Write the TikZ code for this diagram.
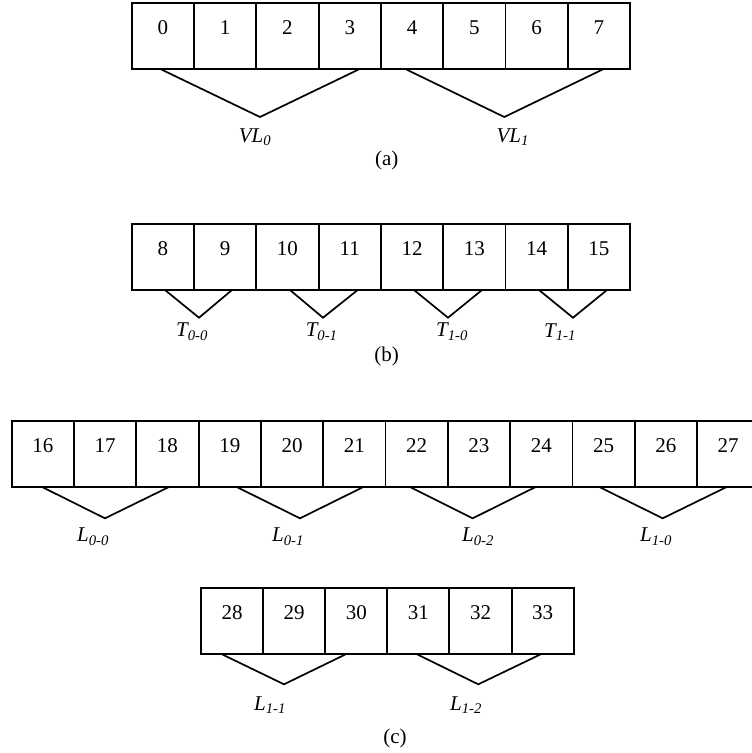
\documentclass[tikz,border=0pt]{standalone}
\usepackage{fontspec}
\setmainfont{Liberation Serif}
\tikzset{
  cell/.style={draw, line width=1.8pt, minimum width=62.3pt, minimum height=66pt,
    inner sep=0pt, text height=14pt, text depth=17pt,
    font=\fontsize{21}{25}\selectfont},
  vmark/.style={line width=1.7pt, line join=miter},
  tag/.style={inner sep=0pt, font=\fontsize{21}{25}\selectfont\itshape},
  caption/.style={inner sep=0pt, font=\fontsize{21}{25}\selectfont}
}
\begin{document}
\begin{tikzpicture}[x=1pt,y=-1pt]
\clip (0,0) rectangle (752,753);

% (a) virtual lanes
\foreach \n [count=\i from 0] in {0,...,7}
  \node[cell] (a\i) at ({162.85+62.3*\i},36.3) {\n};
\draw[vmark] (161,69.3) -- (260,117) coordinate (vl0) -- (359,69.3);
\draw[vmark] (406,69.3) -- (504.3,117) coordinate (vl1) -- (603,69.3);
\node[tag] (vl0t) at (255,137) {VL\textsubscript{0}};
\node[tag] (vl1t) at (512.7,137) {VL\textsubscript{1}};
\node[caption] (capa) at (386.7,160) {(a)};

% (b) pairs
\foreach \n [count=\i from 0] in {8,...,15}
  \node[cell] (b\i) at ({162.85+62.3*\i},257) {\n};
\draw[vmark] (165,290) -- (199,317.7) coordinate (t00) -- (232,290);
\draw[vmark] (290,290) -- (323,317.7) coordinate (t01) -- (357.7,290);
\draw[vmark] (414,290) -- (448,317.7) coordinate (t10) -- (482,290);
\draw[vmark] (539,290) -- (573,317.7) coordinate (t11) -- (607,290);
\node[tag] (t00t) at (192,331.7) {T\textsubscript{0-0}};
\node[tag] (t01t) at (321.7,331.7) {T\textsubscript{0-1}};
\node[tag] (t10t) at (452,331.7) {T\textsubscript{1-0}};
\node[tag] (t11t) at (560,331.7) {T\textsubscript{1-1}};
\node[caption] (capb) at (386.7,356.7) {(b)};

% (c) triples
\foreach \n [count=\i from 0] in {16,...,27}
  \node[cell] (c\i) at ({42.85+62.3*\i},454.2) {\n};
\draw[vmark] (42.7,487.3) -- (105,518.3) coordinate (l00) -- (168.3,487.3);
\draw[vmark] (237.3,487.3) -- (300,518.3) coordinate (l01) -- (362.7,487.3);
\draw[vmark] (410.7,487.3) -- (472.7,518.3) coordinate (l02) -- (535,487.3);
\draw[vmark] (600,487.3) -- (662.7,518.3) coordinate (l10) -- (726,487.3);
\node[tag] (l00t) at (93,536.7) {L\textsubscript{0-0}};
\node[tag] (l01t) at (288,536.7) {L\textsubscript{0-1}};
\node[tag] (l02t) at (478,536.7) {L\textsubscript{0-2}};
\node[tag] (l10t) at (656,536.7) {L\textsubscript{1-0}};

\foreach \n [count=\i from 0] in {28,...,33}
  \node[cell] (d\i) at ({232.1+62.1*\i},620.8) {\n};
\draw[vmark] (221,653.8) -- (284,684.3) coordinate (l11) -- (346.7,653.8);
\draw[vmark] (416,653.8) -- (478.3,684.3) coordinate (l12) -- (541.7,653.8);
\node[tag] (l11t) at (270,705) {L\textsubscript{1-1}};
\node[tag] (l12t) at (466,705) {L\textsubscript{1-2}};
\node[caption] (capc) at (395,738) {(c)};
\end{tikzpicture}
\end{document}
